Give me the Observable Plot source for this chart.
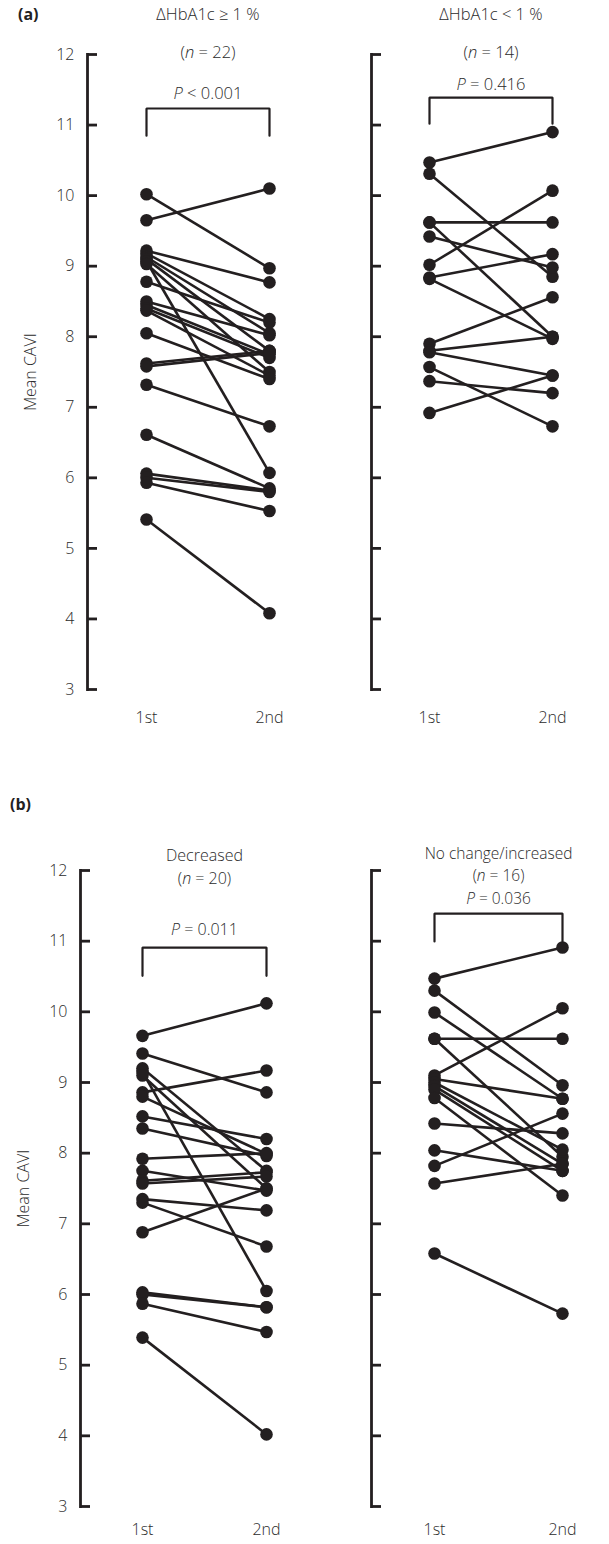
<!DOCTYPE html>
<html><head><meta charset="utf-8">
<script src="https://cdn.jsdelivr.net/npm/d3@7"></script>
<script src="https://cdn.jsdelivr.net/npm/@observablehq/plot@0.6"></script>
<style>
body{margin:0;background:#fff;}
#root{position:relative;width:609px;height:1544px;font-family:"Open Sans",sans-serif;color:#222;}
.panel{position:absolute;}
.tag{position:absolute;font-weight:700;font-size:16px;color:#222;line-height:16px;}
</style></head><body><div id="root"></div>
<script>
// ---- data ----
const timeLabels = ["1st", "2nd"];
const yTicks = [3, 4, 5, 6, 7, 8, 9, 10, 11, 12];

// (a) ΔHbA1c ≥ 1 %
const aHighFirst  = [10.02, 9.65, 9.22, 9.18, 9.13, 9.10, 9.07, 9.03, 8.78, 8.50, 8.45, 8.40, 8.37, 8.05, 7.62, 7.58, 7.32, 6.61, 6.06, 6.00, 5.93, 5.41];
const aHighSecond = [8.97, 10.10, 8.77, 8.25, 8.05, 7.80, 6.07, 7.50, 8.20, 8.02, 7.75, 7.70, 7.45, 7.40, 7.80, 7.77, 6.73, 5.85, 5.82, 5.80, 5.53, 4.08];
// (a) ΔHbA1c < 1 %
const aLowFirst  = [10.47, 10.31, 9.62, 9.62, 9.42, 9.02, 8.84, 8.82, 7.90, 7.80, 7.78, 7.57, 7.37, 6.92];
const aLowSecond = [10.90, 8.85, 9.62, 8.00, 8.98, 10.07, 9.17, 7.97, 8.56, 8.00, 7.45, 6.73, 7.20, 7.45];
// (b) Decreased
const bDecFirst  = [9.66, 9.41, 9.20, 9.15, 9.10, 8.86, 8.80, 8.52, 8.35, 7.92, 7.75, 7.61, 7.57, 7.35, 7.30, 6.88, 6.03, 6.00, 5.87, 5.39];
const bDecSecond = [10.12, 8.86, 7.75, 6.05, 7.50, 9.17, 7.99, 8.20, 7.96, 8.00, 7.47, 7.73, 7.67, 7.19, 6.68, 7.50, 5.82, 5.82, 5.47, 4.02];
// (b) No change/increased
const bIncFirst  = [10.47, 10.30, 9.99, 9.62, 9.62, 9.10, 9.05, 9.00, 8.95, 8.90, 8.78, 8.42, 8.04, 7.82, 7.57, 6.58];
const bIncSecond = [10.91, 8.96, 8.77, 9.62, 7.95, 10.05, 8.77, 8.05, 7.85, 7.75, 7.40, 8.28, 7.75, 8.56, 7.85, 5.73];

const panelTitles = ["ΔHbA1c ≥ 1 %", "ΔHbA1c < 1 %", "Decreased", "No change/increased"];
const panelNs = ["(n = 22)", "(n = 14)", "(n = 20)", "(n = 16)"];
const panelPs = ["P < 0.001", "P = 0.416", "P = 0.011", "P = 0.036"];
const yLabel = "Mean CAVI";

// ---- layout ----
const ink = "#231f20";
const textInk = "#2b2b2b";
const root = document.getElementById("root");

function addTag(txt, left, top) {
  const d = document.createElement("div");
  d.className = "tag"; d.textContent = txt;
  d.style.left = left + "px"; d.style.top = top + "px";
  root.appendChild(d);
}

function italicize(svg) {
  d3.select(svg).selectAll("text").each(function () {
    const t = this.textContent;
    const m = t.match(/^(\(?)([nP])(\s.*)$/);
    if (!m) return;
    const s = d3.select(this);
    s.text(null).style("white-space", "pre");
    if (m[1]) s.append("tspan").text(m[1]);
    s.append("tspan").attr("font-style", "italic").text(m[2]);
    s.append("tspan").text(m[3]);
  });
}

function panel(o) {
  const links = o.first.map((v, i) => ({x1: 1, x2: 2, y1: v, y2: o.second[i]}));
  const dots = o.first.flatMap((v, i) => [{x: 1, y: v}, {x: 2, y: o.second[i]}]);
  const bracket = [{x: 1, y: o.legY}, {x: 1, y: o.topY}, {x: 2, y: o.topY}, {x: 2, y: o.legY}];
  const texts = [
    {x: 1.5, y: o.titleY, text: panelTitles[o.k]},
    {x: 1.5, y: o.nY, text: panelNs[o.k]},
    {x: 1.5, y: o.pY, text: panelPs[o.k]}
  ];
  const svg = Plot.plot({
    width: o.width, height: o.height,
    marginLeft: o.marginLeft, marginTop: o.marginTop, marginBottom: o.marginBottom, marginRight: 10,
    x: {domain: [1, 2], range: o.xRange, label: null},
    y: {domain: [3, 12], range: [o.height - o.marginBottom, o.marginTop], label: null},
    style: {fontFamily: "'Open Sans', sans-serif", fontSize: "16px", background: "transparent", overflow: "visible", color: ink},
    marks: [
      Plot.frame({anchor: "left", stroke: ink, strokeWidth: 2.8}),
      Plot.axisY({ticks: yTicks, tickSize: -10, fill: "none", stroke: ink, strokeWidth: 2.8, label: null}),
      o.showLabels ? Plot.axisY({ticks: yTicks, tickSize: 0, tickPadding: 13, fill: textInk, label: null, fontSize: 16, fontWeight: 300}) : null,
      Plot.axisX({ticks: [1, 2], tickFormat: d => timeLabels[d - 1], tickSize: 0, tickPadding: o.xPad, fill: textInk, label: null, fontSize: 16, fontWeight: 300}),
      Plot.link(links, {x1: "x1", x2: "x2", y1: "y1", y2: "y2", stroke: ink, strokeWidth: 2.6}),
      Plot.dot(dots, {x: "x", y: "y", r: 6.3, fill: ink}),
      Plot.line(bracket, {x: "x", y: "y", stroke: ink, strokeWidth: 2.2, strokeLinejoin: "miter", curve: "linear"}),
      Plot.text(texts, {x: "x", y: "y", text: "text", fontSize: o.textSize, lineHeight: 1, fill: textInk, fontWeight: 300}),
      o.showLabels ? Plot.text([yLabel], {frameAnchor: "left", textAnchor: "middle", rotate: -90, dx: -57, fontSize: 16, fill: textInk, fontWeight: 300}) : null
    ]
  });
  italicize(svg);
  const wrap = document.createElement("div");
  wrap.className = "panel";
  wrap.style.left = o.left + "px"; wrap.style.top = o.top + "px";
  wrap.appendChild(svg);
  root.appendChild(wrap);
}

addTag("(a)", 18, 6);
addTag("(b)", 10, 796);

panel({k: 0, first: aHighFirst, second: aHighSecond, left: 0, top: 0, width: 290, height: 740,
  marginLeft: 87, marginTop: 54, marginBottom: 51, xRange: [146, 269], xPad: 22, showLabels: true, textSize: 16.5,
  titleY: 12.57, nY: 12.03, pY: 11.45, topY: 11.235, legY: 10.85});
panel({k: 1, first: aLowFirst, second: aLowSecond, left: 290, top: 0, width: 319, height: 740,
  marginLeft: 81, marginTop: 54, marginBottom: 51, xRange: [139, 262], xPad: 22, showLabels: false, textSize: 16.5,
  titleY: 12.57, nY: 12.03, pY: 11.575, topY: 11.39, legY: 11.02});
panel({k: 2, first: bDecFirst, second: bDecSecond, left: 0, top: 816, width: 290, height: 728,
  marginLeft: 80, marginTop: 54, marginBottom: 38, xRange: [142, 266], xPad: 17, showLabels: true, textSize: 16,
  titleY: 12.20, nY: 11.885, pY: 11.165, topY: 10.91, legY: 10.51});
panel({k: 3, first: bIncFirst, second: bIncSecond, left: 290, top: 816, width: 319, height: 728,
  marginLeft: 81, marginTop: 54, marginBottom: 38, xRange: [144, 272], xPad: 17, showLabels: false, textSize: 15.5,
  titleY: 12.23, nY: 11.915, pY: 11.60, topY: 11.39, legY: 10.995});
</script>
</body></html>
